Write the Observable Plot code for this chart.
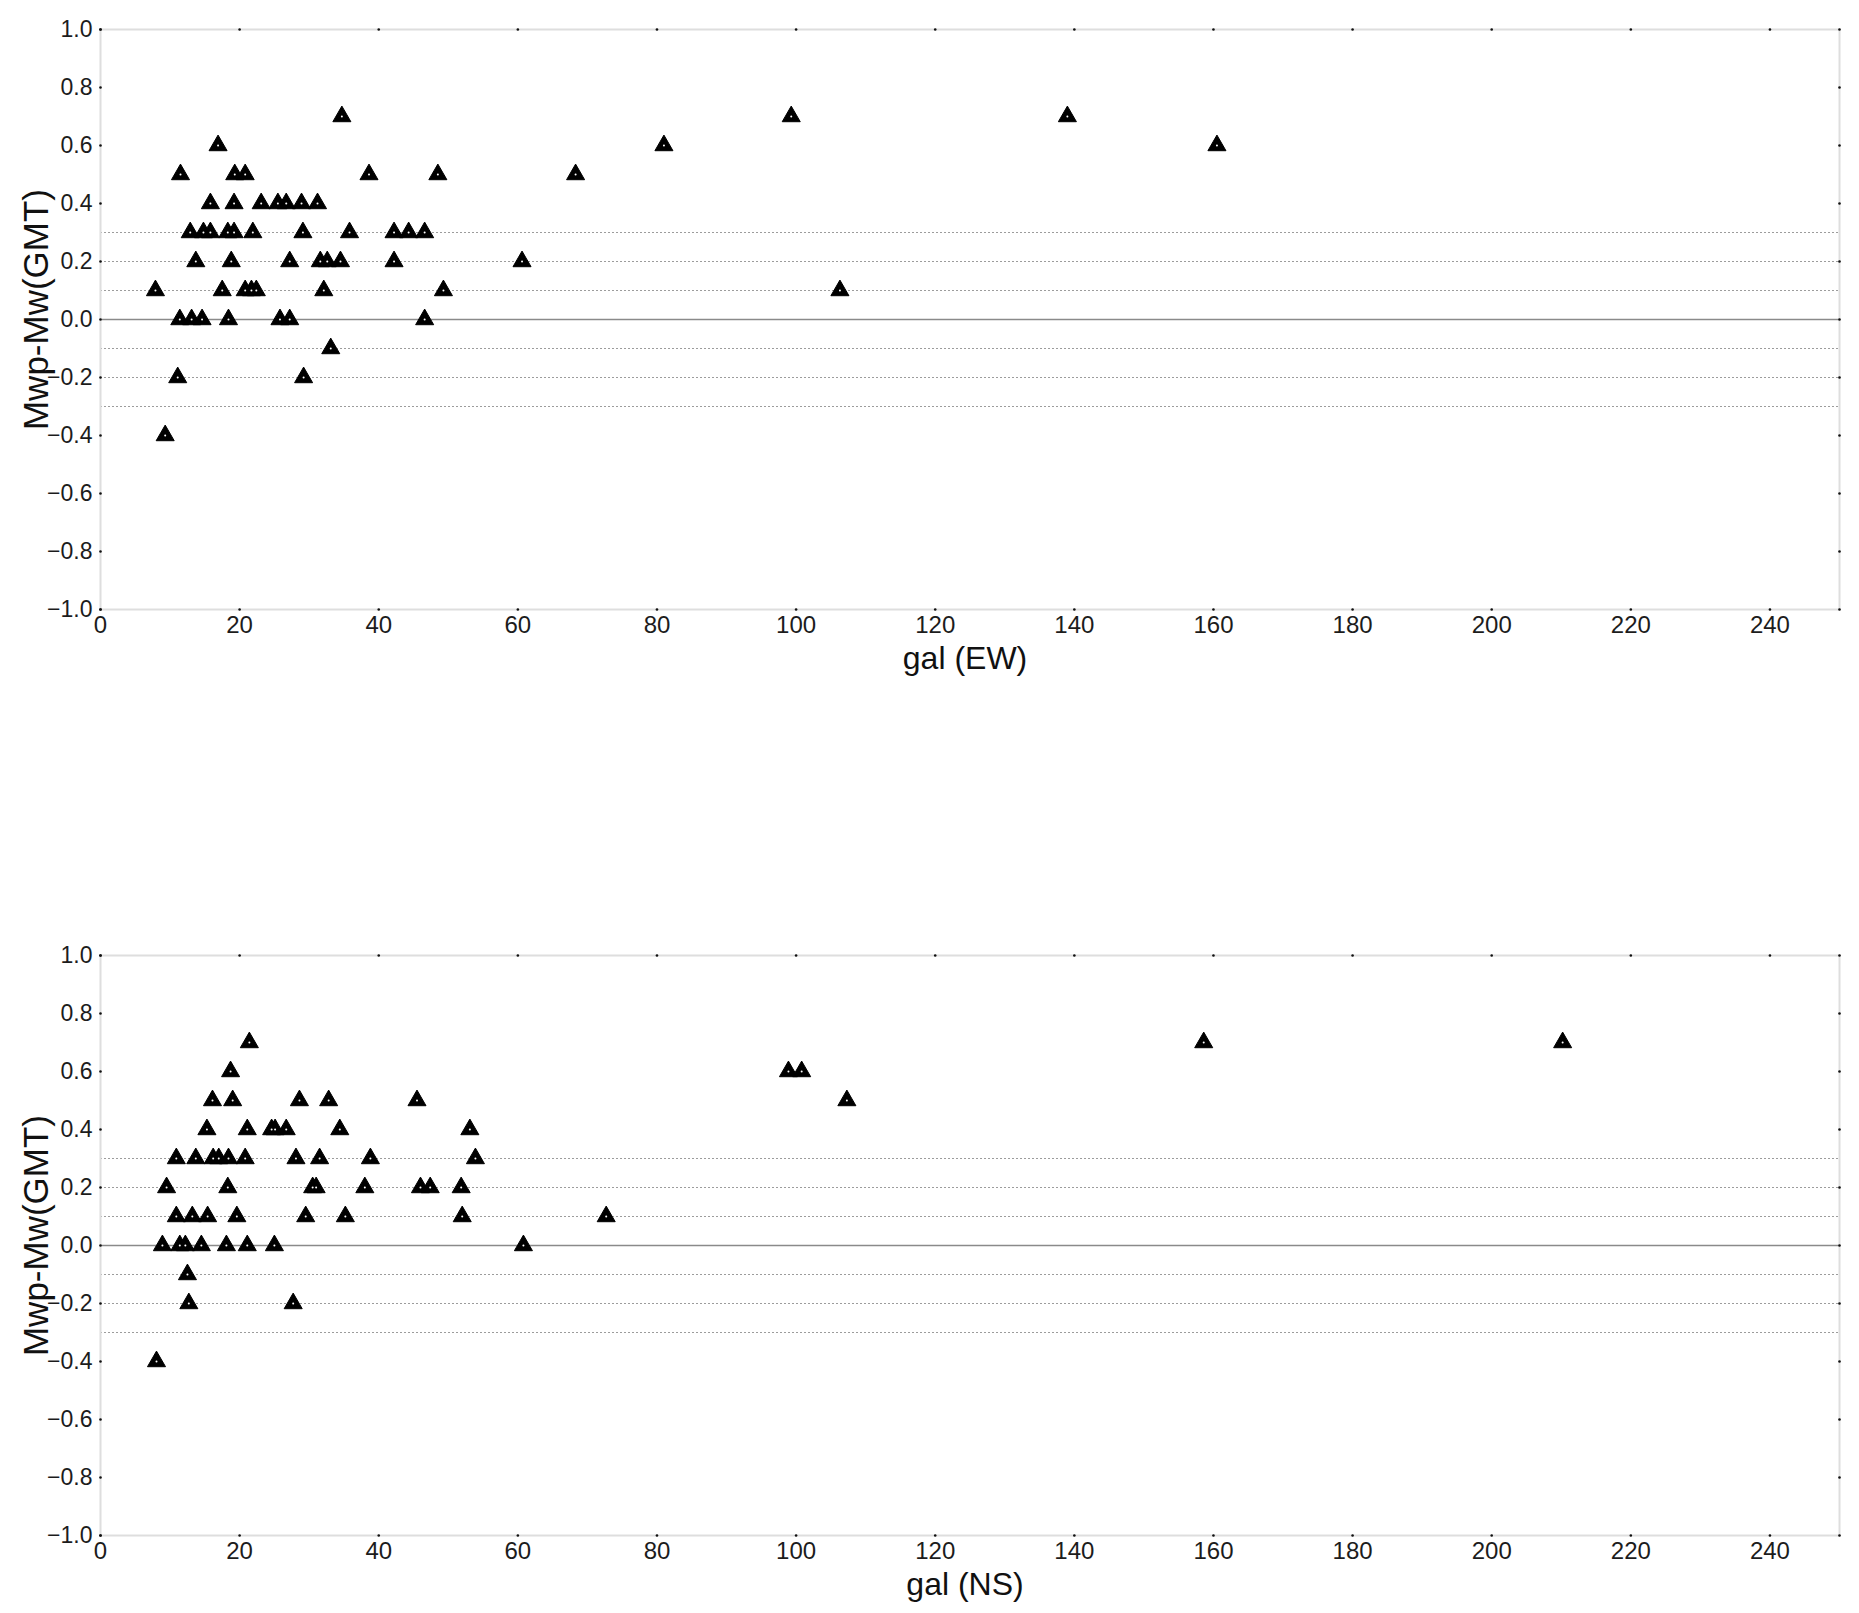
<!DOCTYPE html>
<html>
<head>
<meta charset="utf-8">
<script src="https://cdn.jsdelivr.net/npm/d3@7"></script>
<script src="https://cdn.jsdelivr.net/npm/@observablehq/plot@0.6"></script>
<style>
html, body { margin: 0; padding: 0; background: #ffffff; }
#chart svg { display: block; }
</style>
</head>
<body>
<div id="chart"></div>
<script>
// Tick labels
const xTicks = [0, 20, 40, 60, 80, 100, 120, 140, 160, 180, 200, 220, 240];
const yTicks = [-1.0, -0.8, -0.6, -0.4, -0.2, 0.0, 0.2, 0.4, 0.6, 0.8, 1.0];
const dottedLevels = [-0.3, -0.2, -0.1, 0.1, 0.2, 0.3];
const yTitle = "Mwp-Mw(GMT)";

// EW component: gal vs Mwp-Mw
const ewGal = [
  34.7, 99.3, 139.0,
  16.9, 81.0, 160.5,
  11.5, 19.3, 20.8, 38.6, 48.5, 68.3,
  15.8, 19.2, 23.1, 25.5, 26.7, 28.9, 31.2,
  12.9, 14.8, 15.8, 18.3, 19.2, 21.9, 29.1, 35.8, 42.2, 44.3, 46.6,
  13.7, 18.8, 27.2, 31.6, 32.6, 34.5, 42.2, 60.6,
  7.9, 17.5, 20.8, 21.7, 22.4, 32.1, 49.3, 106.3,
  11.4, 13.1, 14.6, 18.4, 25.8, 27.2, 46.6,
  33.1,
  11.1, 29.2,
  9.3
];
const ewDiff = [
  0.7, 0.7, 0.7,
  0.6, 0.6, 0.6,
  0.5, 0.5, 0.5, 0.5, 0.5, 0.5,
  0.4, 0.4, 0.4, 0.4, 0.4, 0.4, 0.4,
  0.3, 0.3, 0.3, 0.3, 0.3, 0.3, 0.3, 0.3, 0.3, 0.3, 0.3,
  0.2, 0.2, 0.2, 0.2, 0.2, 0.2, 0.2, 0.2,
  0.1, 0.1, 0.1, 0.1, 0.1, 0.1, 0.1, 0.1,
  0.0, 0.0, 0.0, 0.0, 0.0, 0.0, 0.0,
  -0.1,
  -0.2, -0.2,
  -0.4
];

// NS component: gal vs Mwp-Mw
const nsGal = [
  21.4, 158.6, 210.2,
  18.7, 98.9, 100.8,
  16.1, 19.0, 28.6, 32.8, 45.5, 107.3,
  15.3, 21.1, 24.6, 25.1, 26.7, 34.4, 53.1,
  10.9, 13.7, 16.2, 17.0, 18.4, 20.8, 28.1, 31.5, 38.8, 53.9,
  9.5, 18.3, 30.5, 31.0, 38.0, 46.0, 47.4, 51.85,
  10.9, 13.2, 15.4, 19.6, 29.5, 35.2, 52.0, 72.7,
  8.9, 11.4, 12.2, 14.5, 18.1, 21.1, 25.0, 60.8,
  12.5,
  12.7, 27.7,
  8.05
];
const nsDiff = [
  0.7, 0.7, 0.7,
  0.6, 0.6, 0.6,
  0.5, 0.5, 0.5, 0.5, 0.5, 0.5,
  0.4, 0.4, 0.4, 0.4, 0.4, 0.4, 0.4,
  0.3, 0.3, 0.3, 0.3, 0.3, 0.3, 0.3, 0.3, 0.3, 0.3,
  0.2, 0.2, 0.2, 0.2, 0.2, 0.2, 0.2, 0.2,
  0.1, 0.1, 0.1, 0.1, 0.1, 0.1, 0.1, 0.1,
  0.0, 0.0, 0.0, 0.0, 0.0, 0.0, 0.0, 0.0,
  -0.1,
  -0.2, -0.2,
  -0.4
];

const panels = [
  {gal: ewGal, diff: ewDiff, xTitle: "gal (EW)", marginTop: 29, marginBottom: 197},
  {gal: nsGal, diff: nsDiff, xTitle: "gal (NS)", marginTop: 149, marginBottom: 77}
];

function makePanel(p) {
  const data = p.gal.map((g, i) => ({g, d: p.diff[i]}));
  return Plot.plot({
    width: 1859,
    height: 806,
    marginLeft: 100,
    marginRight: 20,
    marginTop: p.marginTop,
    marginBottom: p.marginBottom,
    style: {fontFamily: "'Liberation Sans', Arial, sans-serif", background: "#ffffff", color: "#1c1c1c"},
    x: {domain: [0, 250]},
    y: {domain: [-1, 1]},
    marks: [
      Plot.ruleY(dottedLevels, {stroke: "#9c9c9c", strokeWidth: 1, strokeDasharray: "2,2"}),
      Plot.ruleY([0], {stroke: "#8a8a8a", strokeWidth: 1.6}),
      Plot.frame({stroke: "#dedede", strokeWidth: 2}),
      Plot.axisY(yTicks, {tickSize: 0, tickPadding: 8, tickFormat: d3.format(".1f"), fontSize: 23, label: null}),
      Plot.axisX(xTicks, {tickSize: 0, tickPadding: 6, fontSize: 24, label: null}),
      // tick dots on all four sides
      Plot.dot(yTicks, {x: () => 0, y: d => d, r: 1.3, fill: "#111"}),
      Plot.dot(yTicks, {x: () => 250, y: d => d, r: 1.3, fill: "#111"}),
      Plot.dot(xTicks, {x: d => d, y: () => -1, r: 1.3, fill: "#111"}),
      Plot.dot(xTicks, {x: d => d, y: () => 1, r: 1.3, fill: "#111"}),
      // data triangles
      Plot.dot(data, {x: "g", y: "d", symbol: "triangle", r: 6.7, fill: "#000", stroke: "#000", strokeWidth: 1}),
      Plot.dot(data, {x: "g", y: "d", r: 1, fill: "#ffffff"}),
      // titles
      Plot.text([p.xTitle], {text: d => d, frameAnchor: "bottom", lineAnchor: "middle", textAnchor: "middle", dx: -5, dy: 49, fontSize: 32, fill: "#111"}),
      Plot.text([yTitle], {text: d => d, frameAnchor: "left", lineAnchor: "middle", textAnchor: "middle", dx: -64, dy: -10, rotate: -90, fontSize: 35, fill: "#111"})
    ]
  });
}

const chart = document.getElementById("chart");
for (const p of panels) chart.appendChild(makePanel(p));
</script>
</body>
</html>
